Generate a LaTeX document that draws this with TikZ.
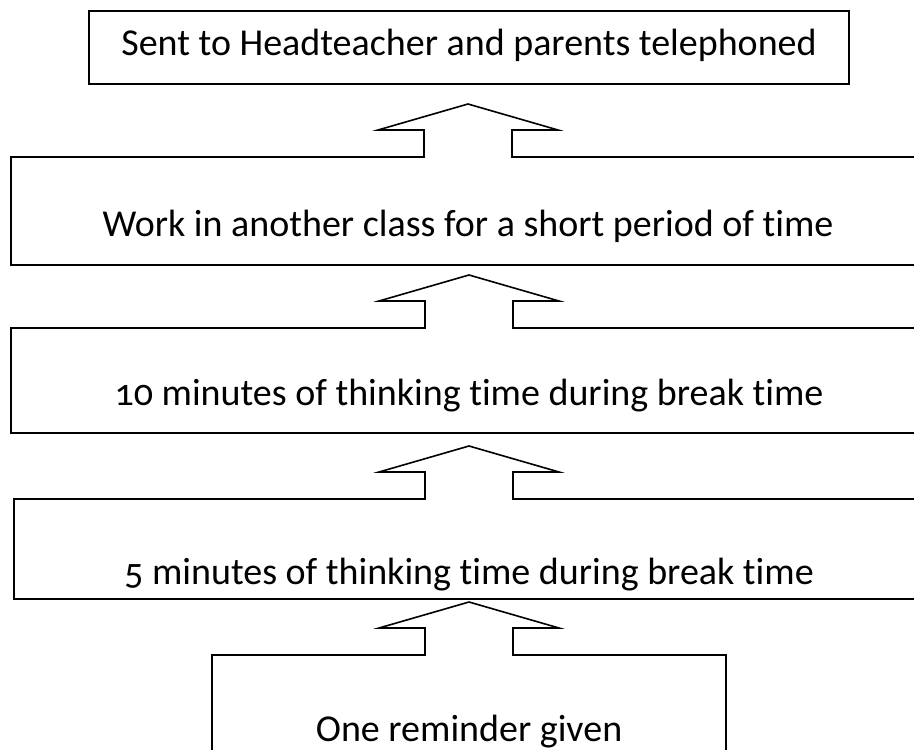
\documentclass[tikz,border=0pt]{standalone}
\usepackage{fontspec}
\setmainfont{Carlito}[Numbers=OldStyle, Ligatures=NoCommon]
\usetikzlibrary{calc}

\begin{document}
\begin{tikzpicture}[
    x=0.5pt, y=-0.5pt,
    every node/.style={font=\fontsize{19}{23}\selectfont},
    stagebox/.style={draw, line width=1pt, inner sep=0pt, anchor=north, align=center},
    uparrow/.style={draw, line width=0.8pt, line join=miter},
  ]
  \useasboundingbox (0,0) rectangle (914,749);
  \clip (0,0) rectangle (914,749);
  % the stages, top to bottom
  \node[stagebox, minimum width=380pt, text height=22.25pt, text depth=14pt] (sent) at (469,10.5)
    {Sent to Headteacher and parents telephoned};
  \node[stagebox, minimum width=457.3pt, text height=39.5pt, text depth=14.5pt] (work) at (468,156)
    {Work in another class for a short period of time};
  \node[stagebox, minimum width=458pt, text height=38.5pt, text depth=14pt] (ten) at (469,327)
    {10 minutes of thinking time during break time};
  \node[stagebox, minimum width=455pt, text height=42.5pt, text depth=7.5pt] (five) at (469,498)
    {5 minutes of thinking time during break time};
  \node[stagebox, minimum width=257pt, text height=43pt, text depth=10pt] (one) at (469,654)
    {One reminder given};
  % block arrows, open into the box below
  \foreach \lo in {one,five,ten,work} {
    \fill[white] ($(\lo.north)+(-43,-2)$) rectangle ($(\lo.north)+(43,2)$);
    \draw[uparrow] ($(\lo.north)+(-44,1)$) -- ++(0,-27) -- ++(-46,0)
      -- ($(\lo.north)+(0,-52)$) -- ($(\lo.north)+(90,-26)$) -- ++(-46,0) -- ++(0,27);
  }
\end{tikzpicture}
\end{document}
